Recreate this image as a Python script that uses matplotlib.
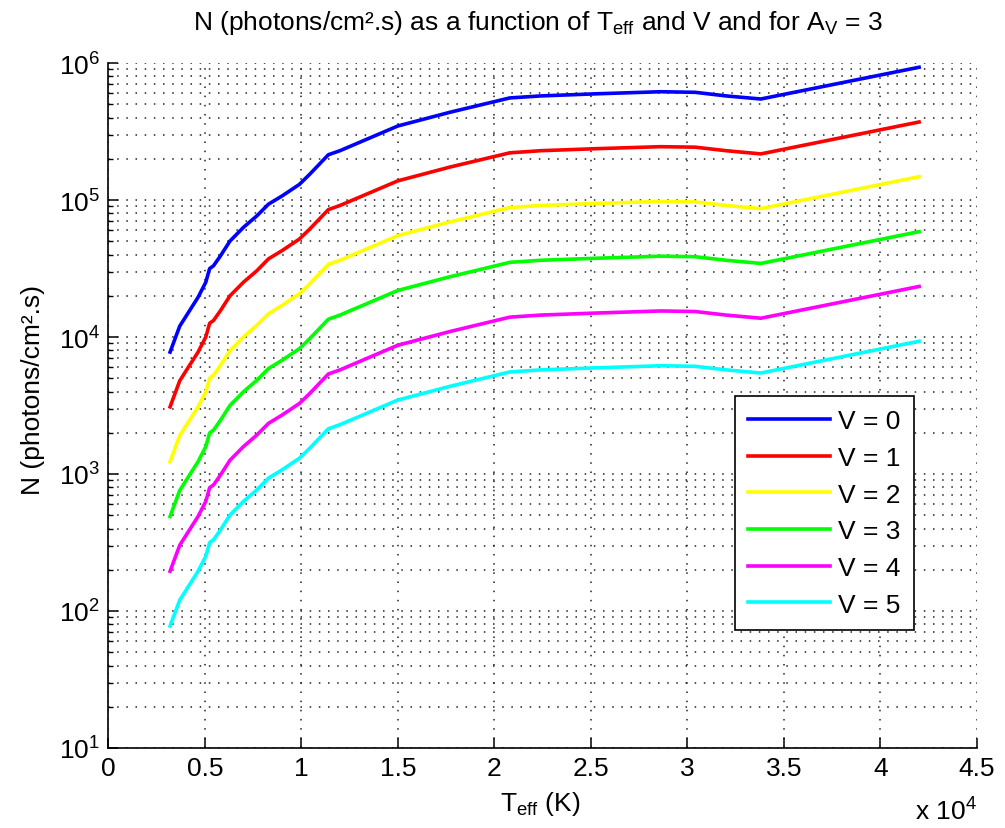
import matplotlib
matplotlib.use("Agg")
import matplotlib.pyplot as plt
from matplotlib.ticker import FixedLocator, FuncFormatter, LogLocator, NullFormatter

plt.rcParams['font.family'] = ['Liberation Sans', 'DejaVu Sans']
plt.rcParams['mathtext.fontset'] = 'custom'
plt.rcParams['mathtext.rm'] = 'Liberation Sans'
plt.rcParams['mathtext.it'] = 'Liberation Sans'
plt.rcParams['mathtext.bf'] = 'Liberation Sans'

# Effective temperature (K)
teff = [3200, 3700, 4150, 4650, 5050, 5250, 5450, 5800, 6300, 7000, 7700, 8300,
        9000, 9900, 10450, 11400, 12000, 15000, 17700, 20800, 22400, 25300,
        28600, 30400, 32000, 33800, 42000]

# N (photons/cm^2.s) for each V magnitude
n_v0 = [7760, 12000, 15100, 19500, 25100, 31600, 33100, 38900, 50100, 63100, 76700,
        93300, 107000, 130000, 155000, 214000, 229000, 347000, 437000, 556000,
        575000, 596000, 617000, 611000, 575000, 546000, 931000]
n_v1 = [3090, 4790, 6030, 7760, 10000, 12600, 13200, 15500, 19950, 25100, 30500,
        37200, 42700, 51900, 61700, 85100, 91200, 138000, 174000, 221000, 229000,
        237000, 245000, 243000, 229000, 217000, 371000]
n_v2 = [1230, 1905, 2400, 3090, 3980, 5010, 5250, 6170, 7940, 10000, 12200, 14800,
        17000, 20700, 24500, 33900, 36300, 55000, 69200, 88100, 91200, 94400, 97700,
        96800, 91200, 86500, 148000]
n_v3 = [490, 759, 955, 1230, 1585, 1995, 2089, 2455, 3162, 3981, 4842, 5888, 6761,
        8222, 9772, 13490, 14454, 21878, 27542, 35075, 36308, 37584, 38905, 38548,
        36308, 34435, 58749]
n_v4 = [195, 302, 380, 490, 631, 794, 832, 977, 1259, 1585, 1928, 2344, 2692, 3273,
        3890, 5370, 5754, 8710, 10965, 13964, 14454, 14962, 15488, 15346, 14454,
        13709, 23388]
n_v5 = [77.6, 120, 151, 195, 251, 316, 331, 389, 501, 631, 767, 933, 1072, 1303,
        1549, 2138, 2291, 3467, 4365, 5559, 5754, 5957, 6166, 6109, 5754, 5458, 9311]

series = [n_v0, n_v1, n_v2, n_v3, n_v4, n_v5]
labels = ['V = 0', 'V = 1', 'V = 2', 'V = 3', 'V = 4', 'V = 5']
colors = ['#0000ff', '#ff0000', '#ffff00', '#00ff00', '#ff00ff', '#00ffff']

xticks = [0, 5000, 10000, 15000, 20000, 25000, 30000, 35000, 40000, 45000]

W, H = 1005, 829
fig = plt.figure(figsize=(W / 100, H / 100), dpi=100)
L, R, T, B = 108.3, 977.0, 64.0, 749.0
ax = fig.add_axes([L / W, (H - B) / H, (R - L) / W, (B - T) / H])

for vals, lab, col in zip(series, labels, colors):
    ax.plot(teff, vals, color=col, lw=2.6, label=lab, solid_joinstyle='round')

ax.set_xlim(0, 45000)
ax.set_yscale('log')
ax.set_ylim(10, 1e6)
ax.xaxis.set_major_locator(FixedLocator(xticks))
ax.xaxis.set_major_formatter(FuncFormatter(lambda v, p: '%g' % (v / 1e4)))
ax.yaxis.set_major_locator(LogLocator(base=10, numticks=10))
ax.yaxis.set_minor_locator(LogLocator(base=10, subs=range(2, 10), numticks=20))
ax.yaxis.set_minor_formatter(NullFormatter())

for s in ['top', 'right']:
    ax.spines[s].set_visible(False)
for s in ['left', 'bottom']:
    ax.spines[s].set_linewidth(1.2)

gkw = dict(color='#222222', linestyle=(0, (1, 5)), linewidth=1.1)
ax.grid(True, which='major', axis='both', **gkw)
ax.grid(True, which='minor', axis='y', **gkw)
ax.set_axisbelow(True)

ax.tick_params(axis='both', which='major', direction='in', length=7, width=1.1,
               labelsize=19, pad=6)
ax.tick_params(axis='y', which='minor', direction='in', length=3.6, width=1.0)

leg = ax.legend(loc='upper left', bbox_to_anchor=((735 - L) / (R - L), (B - 397) / (B - T)),
                fontsize=19, frameon=True, fancybox=False, framealpha=1,
                edgecolor='black', handlelength=3.1, handletextpad=0.3,
                labelspacing=0.48, borderpad=0.5, borderaxespad=0)
leg.get_frame().set_linewidth(1.2)

fig.text(538 / W, 1 - 30 / H,
         r'N (photons/cm².s) as a function of T$_{\rm eff}$ and V and for A$_{\rm V}$ = 3',
         ha='center', va='baseline', fontsize=19)
fig.text(540 / W, 1 - 811 / H, r'T$_{\rm eff}$ (K)', ha='center', va='baseline', fontsize=19)
fig.text(R / W, 1 - 821 / H, r'x 10$^{4}$', ha='right', va='baseline', fontsize=19)
fig.text(33 / W, 1 - 390 / H, 'N (photons/cm².s)', rotation=90, ha='center', va='center',
         fontsize=19)

fig.savefig('out.png', dpi=100)
